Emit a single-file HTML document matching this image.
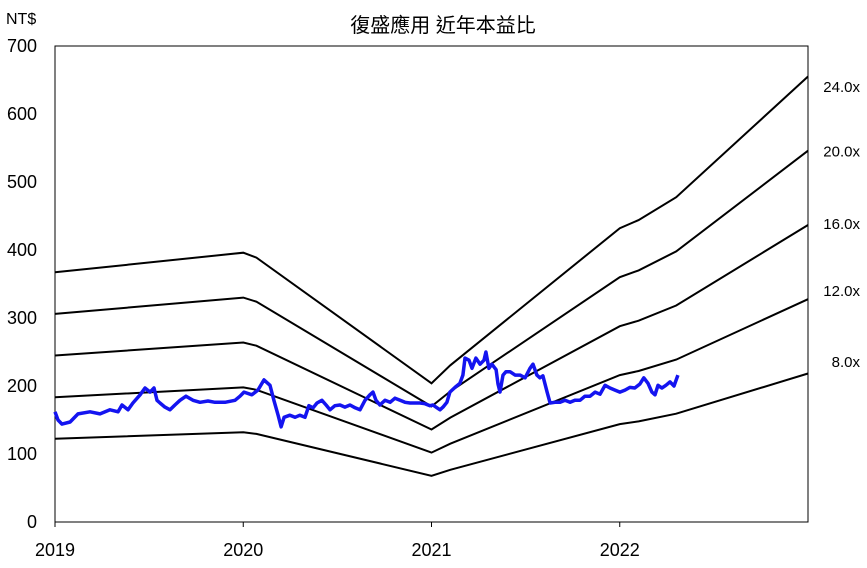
<!DOCTYPE html>
<html><head><meta charset="utf-8">
<style>
html,body{margin:0;padding:0;background:#fff;}
svg{display:block;font-family:"Liberation Sans","Noto Sans CJK TC",sans-serif;}
</style></head>
<body>
<svg id="chart" width="867" height="568" viewBox="0 0 867 568" xmlns="http://www.w3.org/2000/svg">
  <text x="443" y="32" font-size="20" text-anchor="middle" fill="#000">復盛應用 近年本益比</text>
  <text x="6" y="24" font-size="16" fill="#000">NT$</text>
  <rect x="55" y="46" width="753" height="476" fill="none" stroke="#000" stroke-width="1"/>
  <g id="yticks"></g>
  <g id="xticks"></g>
  <g id="bands"></g>
  <g id="price"></g>
  <g id="bandlabels"></g>
</svg>
<script>
const yTicks = [0,100,200,300,400,500,600,700];
const xTicks = [2019,2020,2021,2022];
const multiples = [8,12,16,20,24];
const multipleLabels = ["8.0x","12.0x","16.0x","20.0x","24.0x"];
const labelYValues = [235,340,438,545,640];
const epsDates = [2019.0,2020.0,2020.07,2021.0,2021.1,2022.0,2022.1,2022.3,2023.0];
const epsValues = [15.3,16.5,16.2,8.5,9.6,18.0,18.5,19.9,27.3];
const priceDates = [2019.000,2019.016,2019.037,2019.080,2019.122,2019.186,2019.239,2019.292,2019.335,2019.356,2019.388,2019.414,2019.452,2019.478,2019.505,2019.526,2019.542,2019.558,2019.584,2019.611,2019.637,2019.664,2019.696,2019.733,2019.770,2019.813,2019.850,2019.903,2019.956,2019.983,
2020.004,2020.046,2020.078,2020.110,2020.142,2020.163,2020.185,2020.201,2020.217,2020.248,2020.275,2020.301,2020.328,2020.349,2020.371,2020.392,2020.418,2020.440,2020.461,2020.487,2020.514,2020.540,2020.567,2020.594,2020.620,2020.647,2020.673,2020.689,2020.705,2020.726,2020.753,2020.780,2020.806,2020.833,2020.859,2020.886,2020.912,2020.939,2020.965,2020.992,
2021.008,2021.029,2021.045,2021.061,2021.082,2021.098,2021.125,2021.151,2021.167,2021.178,2021.199,2021.215,2021.236,2021.258,2021.279,2021.289,2021.305,2021.321,2021.343,2021.353,2021.364,2021.380,2021.396,2021.417,2021.444,2021.470,2021.497,2021.523,2021.539,2021.560,2021.576,2021.592,2021.614,2021.630,2021.656,2021.683,2021.709,2021.736,2021.762,2021.789,2021.815,2021.842,2021.869,2021.895,2021.922,2021.948,2021.975,
2022.001,2022.028,2022.054,2022.080,2022.107,2022.128,2022.150,2022.171,2022.187,2022.203,2022.224,2022.245,2022.267,2022.288,2022.309];
const priceValues = [162,150,144,147,159,162,159,165,162,172,165,175,187,197,191,197,179,175,169,165,172,179,185,179,176,178,176,176,179,185,
191,187,194,209,201,179,157,140,154,157,154,157,154,171,168,175,179,172,165,171,172,169,172,168,165,179,187,191,179,172,179,176,182,179,176,175,175,175,174,171,
172,168,165,169,176,191,198,204,216,241,238,226,241,232,238,250,226,232,224,203,191,216,221,221,216,216,212,226,232,216,212,215,191,175,176,176,179,176,179,179,185,185,191,188,201,197,194,
191,194,198,197,203,212,204,191,187,201,197,201,206,200,216];

const X0=55, X1=808, Y0=522, Y1=46;
const xScale = t => X0 + (t-2019)/(2023-2019)*(X1-X0);
const yScale = v => Y0 - v/700*(Y0-Y1);
const NS="http://www.w3.org/2000/svg";
function mk(tag, parent){const e=document.createElementNS(NS,tag);document.getElementById(parent).appendChild(e);return e;}

yTicks.forEach(v=>{
  const t=mk('text','yticks');
  
  
  t.setAttribute('x',37);t.setAttribute('y',yScale(v)+6);
  t.setAttribute('font-size','18');t.setAttribute('text-anchor','end');
  t.textContent=v;
});
xTicks.forEach(v=>{
  const t=mk('text','xticks');
  
  
  t.setAttribute('x',xScale(v));t.setAttribute('y',556);
  t.setAttribute('font-size','18');t.setAttribute('text-anchor','middle');
  t.textContent=v;
  const l=mk('line','xticks');
  
  
  l.setAttribute('x1',xScale(v));l.setAttribute('x2',xScale(v));l.setAttribute('y1',Y0);l.setAttribute('y2',Y0+5);l.setAttribute('stroke','#000');
});
multiples.forEach((m,i)=>{
  const p=mk('polyline','bands');
  
  
  p.setAttribute('points',epsDates.map((d,j)=>xScale(d).toFixed(1)+','+yScale(epsValues[j]*m).toFixed(1)).join(' '));
  p.setAttribute('fill','none');p.setAttribute('stroke','#000');p.setAttribute('stroke-width','2');
  const t=mk('text','bandlabels');
  
  
  t.setAttribute('x',860);t.setAttribute('y',yScale(labelYValues[i])+5);
  t.setAttribute('font-size','15');t.setAttribute('text-anchor','end');
  t.textContent=multipleLabels[i];
});
const pl=mk('polyline','price');


pl.setAttribute('points',priceDates.map((d,j)=>xScale(d).toFixed(1)+','+yScale(priceValues[j]).toFixed(1)).join(' '));
pl.setAttribute('fill','none');pl.setAttribute('stroke','#1414f0');pl.setAttribute('stroke-width','3.5');pl.setAttribute('stroke-linejoin','round');
</script>
</body></html>
